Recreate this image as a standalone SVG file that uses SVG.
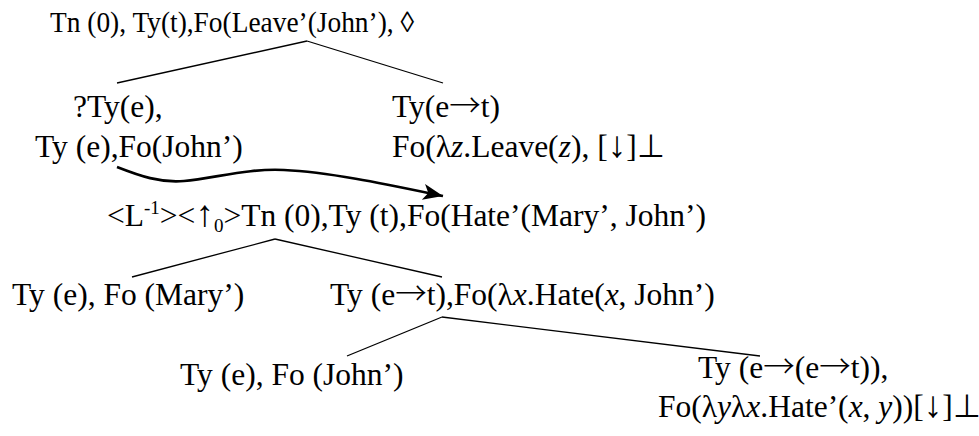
<svg xmlns="http://www.w3.org/2000/svg" width="979" height="436" viewBox="0 0 979 436">
<style>
text{font-family:"Liberation Serif","Times New Roman",serif;font-size:31.5px;fill:#000}
.top{font-size:29px}
.it{font-style:italic}
.sm{font-size:19px}
.ar{font-family:"Noto Sans CJK JP","DejaVu Serif",serif;font-weight:300}
.ud{font-size:37px}
.edge{stroke:#000;stroke-width:1.3;fill:none}
.link{stroke:#000;stroke-width:2.6;fill:none}
</style>
<defs>
<marker id="ah" markerUnits="userSpaceOnUse" markerWidth="24" markerHeight="20" refX="20" refY="8" orient="auto">
<path d="M0,0 L20,8 L0,16 L5,8 Z" fill="#000"/>
</marker>
</defs>
<rect width="979" height="436" fill="#fff"/>
<g id="connectors">
<line class="edge" x1="307" y1="41" x2="117" y2="83"/>
<line class="edge" x1="307" y1="41" x2="443" y2="83"/>
<line class="edge" x1="275" y1="239" x2="132" y2="277"/>
<line class="edge" x1="275" y1="239" x2="442" y2="277"/>
<line class="edge" x1="442" y1="317" x2="347" y2="356"/>
<line class="edge" x1="442" y1="317" x2="760" y2="356"/>
<path class="link" d="M117,167 C140,176 160,183 184,181 C215,178 250,168 284,170 C330,172 390,185 443,196" marker-end="url(#ah)"/>
</g>
<g id="n-root"><text class="top" x="50" y="32" textLength="364" lengthAdjust="spacingAndGlyphs">Tn (0), Ty(t),Fo(Leave’(John’), ◊</text></g>
<g id="n-john"><text x="73" y="117">?Ty(e),</text><text x="35" y="157">Ty (e),Fo(John’)</text></g>
<g id="n-leave"><text x="392" y="117">Ty(e<tspan class="ar">→</tspan>t)</text><text x="392" y="157">Fo(λ<tspan class="it">z</tspan>.Leave(<tspan class="it">z</tspan>), [<tspan class="ud">↓</tspan>]⊥</text></g>
<g id="n-link"><text x="107" y="226">&lt;L<tspan class="sm" dy="-12">-1</tspan><tspan dy="12">&gt;&lt;</tspan><tspan class="ud">↑</tspan><tspan class="sm" dy="6">0</tspan><tspan dy="-6">&gt;Tn (0),Ty (t),Fo(Hate’(Mary’, John’)</tspan></text></g>
<g id="n-mary"><text x="12" y="305">Ty (e), Fo (Mary’)</text></g>
<g id="n-pred"><text x="330" y="305">Ty (e<tspan class="ar">→</tspan>t),Fo(λ<tspan class="it">x</tspan>.Hate(<tspan class="it">x</tspan>, John’)</text></g>
<g id="n-obj"><text x="180" y="385">Ty (e), Fo (John’)</text></g>
<g id="n-verb"><text x="698" y="378">Ty (e<tspan class="ar">→</tspan>(e<tspan class="ar">→</tspan>t)),</text><text x="658" y="417">Fo(λ<tspan class="it">y</tspan>λ<tspan class="it">x</tspan>.Hate’(<tspan class="it">x</tspan>, <tspan class="it">y</tspan>))[<tspan class="ud">↓</tspan>]⊥</text></g>
</svg>
